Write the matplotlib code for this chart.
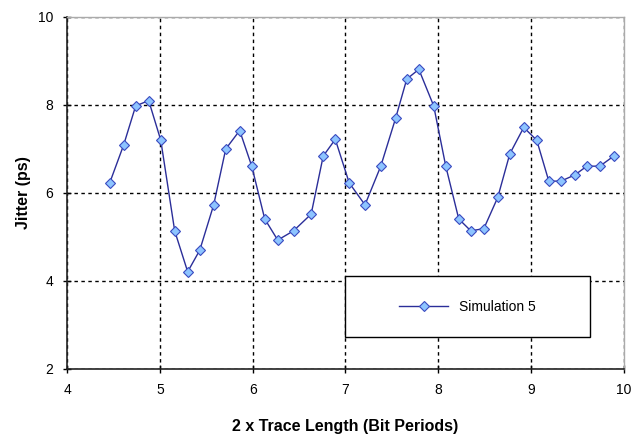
import matplotlib
matplotlib.use("Agg")
from matplotlib import pyplot as plt
from matplotlib.patches import Rectangle

x_vals = [4.46, 4.61, 4.74, 4.88, 5.01, 5.16, 5.30, 5.43, 5.58, 5.71,
          5.86, 5.99, 6.13, 6.27, 6.44, 6.63, 6.76, 6.89, 7.04, 7.21,
          7.38, 7.54, 7.66, 7.79, 7.95, 8.08, 8.22, 8.35, 8.49, 8.64,
          8.77, 8.92, 9.06, 9.19, 9.32, 9.47, 9.60, 9.74, 9.89]
jitter = [6.23, 7.09, 7.98, 8.10, 7.20, 5.14, 4.21, 4.70, 5.73, 7.00,
          7.42, 6.61, 5.41, 4.93, 5.14, 5.52, 6.84, 7.22, 6.23, 5.73,
          6.61, 7.70, 8.59, 8.81, 7.98, 6.61, 5.41, 5.14, 5.19, 5.90,
          6.89, 7.49, 7.20, 6.27, 6.27, 6.41, 6.61, 6.61, 6.84]
series_name = "Simulation 5"
x_ticks = [4, 5, 6, 7, 8, 9, 10]
y_ticks = [2, 4, 6, 8, 10]

plt.rcParams["font.family"] = ["Liberation Sans", "DejaVu Sans"]

fig = plt.figure(figsize=(6.31, 4.37), dpi=100)
ax = fig.add_axes([67 / 631, 1 - 369 / 437, 557 / 631, 352 / 437])

ax.plot(x_vals, jitter, "-", color="#2B2E99", linewidth=1.0, marker="D",
        markersize=5.5, markerfacecolor="#8DC4FF", markeredgecolor="#3A4AC0",
        markeredgewidth=0.8, label=series_name, zorder=3)

ax.set_xlim(4, 10)
ax.set_ylim(2, 10)
ax.set_xticks(x_ticks)
ax.set_yticks(y_ticks)
ax.grid(True, color="black", linestyle=(0, (2.5, 2.5)), linewidth=1.0)
ax.tick_params(direction="inout", length=6, width=1, labelsize=10, pad=7)

for side in ["left", "bottom"]:
    ax.spines[side].set_color("#222222")
    ax.spines[side].set_linewidth(1.2)
for side in ["top", "right"]:
    ax.spines[side].set_color("#AAAAAA")
    ax.spines[side].set_linewidth(1.0)

ax.set_xlabel("2 x Trace Length (Bit Periods)", fontsize=11.5, fontweight="bold", labelpad=16)
ax.set_ylabel("Jitter (ps)", fontsize=11.5, fontweight="bold", labelpad=5)

# legend box
box = Rectangle((0.499, 0.091), 0.44, 0.173, transform=ax.transAxes,
                facecolor="white", edgecolor="black", linewidth=1.0, zorder=4)
ax.add_patch(box)
ax.legend(loc="center", bbox_to_anchor=(0.719, 0.1775), frameon=False,
          fontsize=10, handlelength=3.5).set_zorder(5)

fig.savefig("out.png", dpi=100)
